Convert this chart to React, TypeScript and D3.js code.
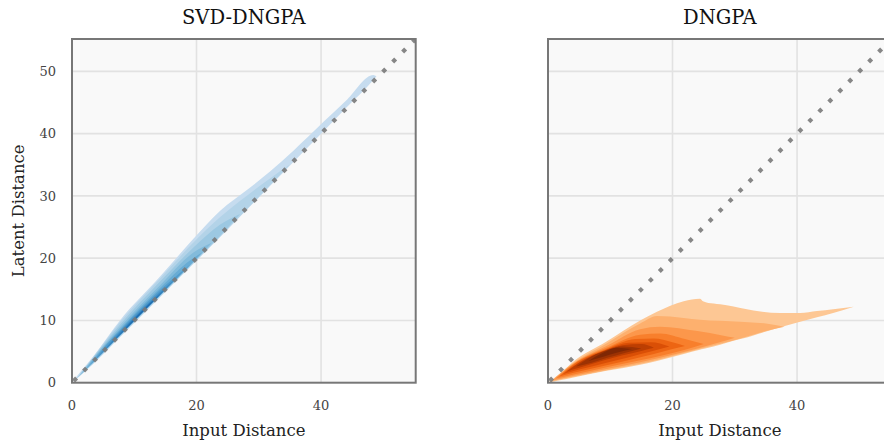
import * as d3 from "d3";

// axis setup
const axisMax = 55.2;
const ticksX = [0, 20, 40];
const ticksY = [0, 10, 20, 30, 40, 50];
const gridX = [20, 40];
const gridY = [10, 20, 30, 40, 50];
const diagonal = [0, 60];

// each row: [input distance, latent lower edge, latent upper edge], outer level first
type Row = [number, number, number];

const svd1: Row[] = [[0, 0, 0], [1.5, 1.3, 1.9], [3.4, 3.0, 4.2], [7.7, 7.3, 10.0], [14.1, 13.7, 17.0], [19.5, 19.1, 23.1], [23.8, 23.4, 27.6], [28.3, 28.0, 31.1], [31.8, 31.6, 33.9], [35.6, 35.5, 37.3], [40.4, 40.4, 41.9], [44.2, 44.3, 45.5], [48.4, 48.6, 49.4], [48.9, 49.2, 49.2]];
const svd2: Row[] = [[0.5, 0.4, 0.4], [3.4, 3.1, 4.1], [7.7, 7.4, 9.7], [14.1, 13.8, 16.7], [19.5, 19.2, 22.5], [23.8, 23.5, 26.6], [28.3, 28.1, 30.2], [31.8, 31.7, 32.8], [35, 35.1, 35.1]];
const svd3: Row[] = [[0.8, 0.7, 0.7], [3.4, 3.2, 4.0], [7.7, 7.5, 9.3], [14.1, 13.9, 16.2], [19.5, 19.3, 21.7], [23.8, 23.6, 25.4], [27, 27.1, 27.1]];
const svd4: Row[] = [[1.2, 1.1, 1.1], [3.4, 3.25, 3.9], [7.7, 7.55, 8.9], [14.1, 13.95, 15.6], [19.5, 19.35, 20.9], [22.5, 22.5, 22.5]];
const svd5: Row[] = [[2, 1.9, 1.9], [4, 3.85, 4.45], [7.7, 7.6, 8.6], [14.1, 14.0, 15.15], [18.5, 18.4, 19.3], [21, 21, 21]];
const svd6: Row[] = [[3, 2.9, 2.9], [5, 4.9, 5.45], [8, 7.9, 8.7], [14, 13.95, 14.75], [19, 19, 19]];
const svd7: Row[] = [[4, 3.95, 3.95], [8, 7.95, 8.5], [13, 12.95, 13.5], [17, 17, 17]];
const svd8: Row[] = [[5.5, 5.5, 5.5], [9, 8.95, 9.35], [13, 12.95, 13.3], [15.5, 15.5, 15.5]];
const svd9: Row[] = [[7.5, 7.5, 7.5], [10.5, 10.5, 10.75], [12.5, 12.5, 12.7], [14, 14, 14]];

const dng1: Row[] = [[0, 0, 0], [1.9, 0.4, 1.4], [4.1, 0.85, 3.4], [9.4, 1.9, 6.6], [14.8, 2.9, 10.0], [17.5, 3.5, 11.4], [21.8, 4.6, 13.1], [24.4, 5.3, 13.5], [24.9, 5.4, 13.1], [26.6, 5.8, 12.7], [28.7, 6.4, 12.45], [30.9, 7.0, 12.0], [33, 7.6, 11.6], [37.3, 8.9, 11.2], [40.5, 9.8, 11.2], [43.2, 10.5, 11.5], [45.8, 11.2, 11.8], [49.1, 12.2, 12.2]];
const dng2: Row[] = [[0.4, 0.2, 0.2], [4.1, 0.95, 3.2], [9.4, 2.0, 6.3], [14.8, 3.05, 9.5], [17.5, 3.65, 10.7], [21.8, 4.75, 10.4], [24.4, 5.45, 10.1], [30.9, 7.1, 9.8], [35, 8.3, 9.5], [38, 9.0, 9.0]];
const dng3: Row[] = [[0.8, 0.4, 0.4], [4.1, 1.1, 3.1], [9.4, 2.2, 5.9], [14.8, 3.3, 8.6], [18, 4.0, 9.0], [24, 5.5, 8.3], [28, 6.6, 7.6], [30, 7.2, 7.2]];
const dng4: Row[] = [[1.3, 0.7, 0.7], [4.1, 1.3, 3.0], [9.4, 2.5, 5.6], [14.8, 3.6, 7.7], [18, 4.3, 7.9], [22, 5.3, 7.0], [25, 6.2, 6.2]];
const dng5: Row[] = [[1.8, 1.0, 1.0], [4.1, 1.6, 2.9], [9.4, 2.8, 5.4], [14, 3.9, 7.0], [17, 4.6, 7.1], [20, 5.4, 6.5], [22, 5.9, 5.9]];
const dng6: Row[] = [[2.4, 1.4, 1.4], [5, 2.1, 3.3], [9.4, 3.2, 5.3], [13, 4.1, 6.4], [16.5, 5.0, 6.5], [19.5, 5.8, 5.8]];
const dng7: Row[] = [[3, 1.8, 1.8], [5, 2.4, 3.2], [9, 3.6, 5.1], [12, 4.4, 6.0], [15, 5.1, 6.2], [17, 5.6, 5.6]];
const dng8: Row[] = [[4.5, 2.6, 2.6], [7, 3.2, 4.2], [9.5, 4.0, 5.2], [12, 4.7, 5.8], [15, 5.5, 5.5]];
const dng9: Row[] = [[6.5, 3.5, 3.5], [9, 4.2, 4.9], [11, 4.8, 5.6], [13.5, 5.4, 5.4]];

const svdLevels = [svd1, svd2, svd3, svd4, svd5, svd6, svd7, svd8, svd9];
const dngLevels = [dng1, dng2, dng3, dng4, dng5, dng6, dng7, dng8, dng9];

const W = 884;
const H = 440;
const plotTop = 39;
const plotBottom = 382.7;
const plotSize = 343.7;
const serif = "'DejaVu Serif', serif";

function Panel({ left, title, levels, interp, t0, t1, showY, id }: any) {
  const x = d3.scaleLinear().domain([0, axisMax]).range([left, left + plotSize]);
  const y = d3.scaleLinear().domain([0, axisMax]).range([plotBottom, plotTop]);
  const shade = d3.scaleLinear().domain([0, levels.length - 1]).range([t0, t1]);
  const area = d3
    .area<Row>()
    .x((d) => x(d[0]))
    .y0((d) => y(d[1]))
    .y1((d) => y(d[2]))
    .curve(d3.curveMonotoneX);
  const diag = d3
    .line<number>()
    .x((d) => x(d))
    .y((d) => y(d));
  const cx = left + plotSize / 2;

  return (
    <g>
      <defs>
        <clipPath id={id}>
          <rect x={left} y={plotTop} width={plotSize} height={plotBottom - plotTop} />
        </clipPath>
      </defs>
      <rect x={left} y={plotTop} width={plotSize} height={plotBottom - plotTop} fill="#f9f9f9" />
      {gridX.map((v) => (
        <line key={"gx" + v} x1={x(v)} x2={x(v)} y1={plotTop} y2={plotBottom} stroke="#e2e2e2" strokeWidth={1.6} />
      ))}
      {gridY.map((v) => (
        <line key={"gy" + v} x1={left} x2={left + plotSize} y1={y(v)} y2={y(v)} stroke="#e2e2e2" strokeWidth={1.6} />
      ))}
      <g clipPath={`url(#${id})`}>
        {levels.map((lv: Row[], i: number) => (
          <path key={i} d={area(lv) || ""} fill={interp(shade(i))} />
        ))}
        <path
          d={diag(diagonal) || ""}
          fill="none"
          stroke="#7a7a7a"
          strokeOpacity={0.9}
          strokeWidth={4.2}
          strokeDasharray="4.2 9.9"
          strokeDashoffset={11.8}
        />
      </g>
      <rect x={left} y={plotTop} width={plotSize} height={plotBottom - plotTop} fill="none" stroke="#777" strokeWidth={2} />
      {ticksX.map((v) => (
        <text key={"tx" + v} x={x(v)} y={410} textAnchor="middle" fontFamily={serif} fontSize={13} fill="#444">
          {v}
        </text>
      ))}
      {showY &&
        ticksY.map((v) => (
          <text key={"ty" + v} x={56} y={y(v)} dy="0.36em" textAnchor="end" fontFamily={serif} fontSize={13} fill="#444">
            {v}
          </text>
        ))}
      <text x={cx} y={436} textAnchor="middle" fontFamily={serif} fontSize={16.5} fill="#222">
        Input Distance
      </text>
      <text x={cx} y={24} textAnchor="middle" fontFamily={serif} fontSize={19.5} fill="#111">
        {title}
      </text>
      {showY && (
        <text
          transform={`translate(23.5,${(plotTop + plotBottom) / 2}) rotate(-90)`}
          textAnchor="middle"
          fontFamily={serif}
          fontSize={16.5}
          fill="#222"
        >
          Latent Distance
        </text>
      )}
    </g>
  );
}

export default function App() {
  return (
    <svg
      width={W}
      height={H}
      viewBox={`0 0 ${W} ${H}`}
      style={{ position: "absolute", left: 0, top: 0, background: "#fff", display: "block" }}
    >
      <rect width={W} height={H} fill="#fff" />
      <Panel left={72} title="SVD-DNGPA" levels={svdLevels} interp={d3.interpolateBlues} t0={0.24} t1={0.78} showY id="clipL" />
      <Panel left={548} title="DNGPA" levels={dngLevels} interp={d3.interpolateOranges} t0={0.28} t1={1} showY={false} id="clipR" />
    </svg>
  );
}
